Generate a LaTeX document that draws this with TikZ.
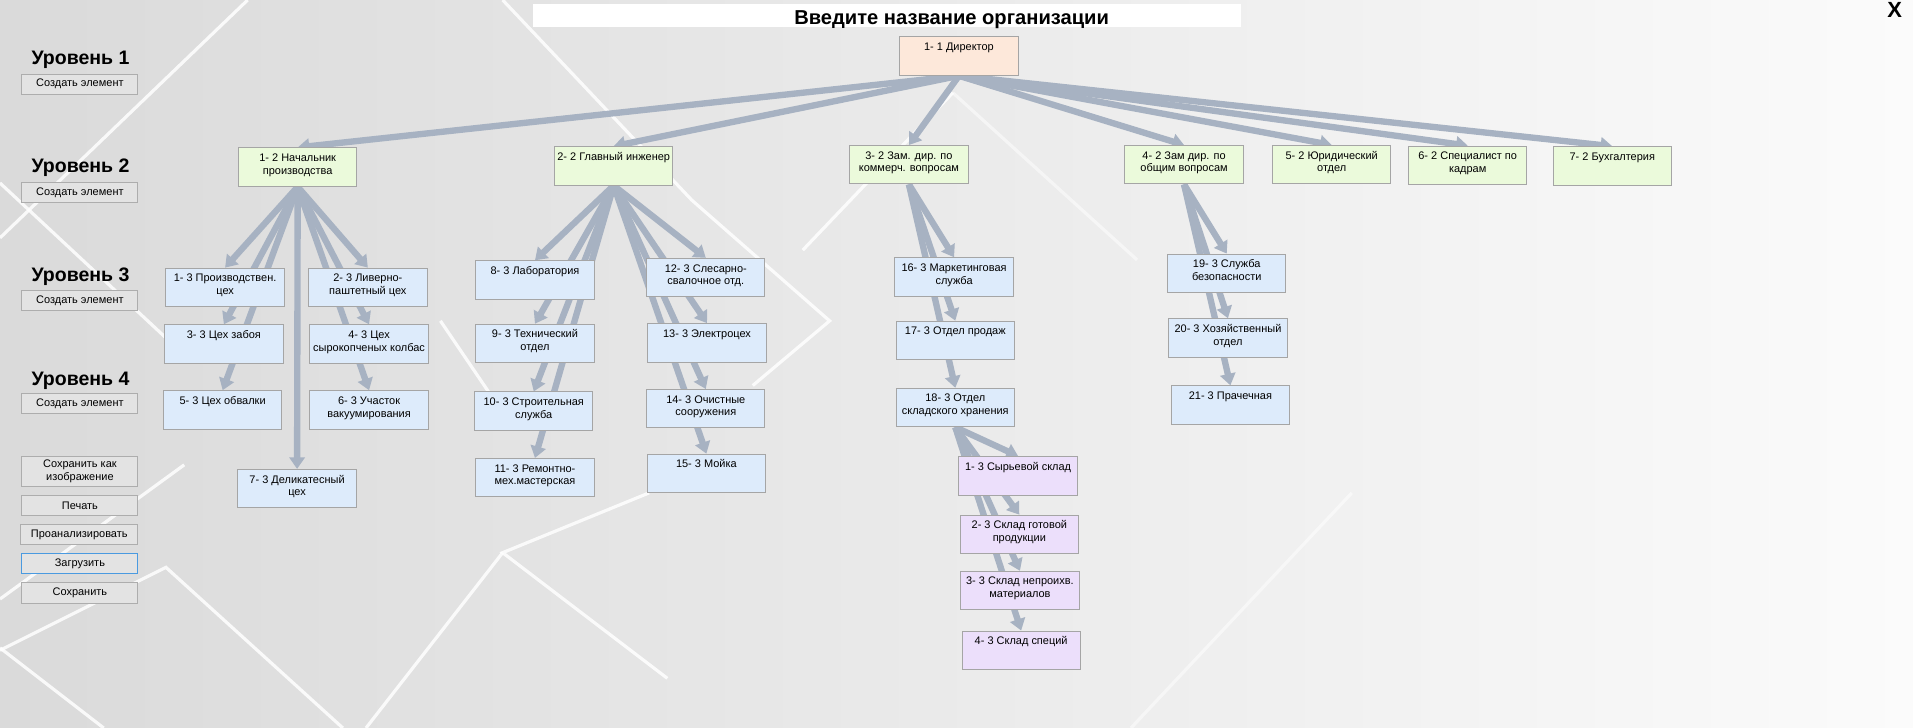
\documentclass[tikz,border=0pt]{standalone}
\usepackage{fontspec}
\setmainfont{Liberation Sans}
\usetikzlibrary{arrows.meta}
\definecolor{bgleft}{HTML}{DADADA}
\definecolor{bgmid}{HTML}{E9E9E9}
\definecolor{bgright}{HTML}{FBFBFB}
\definecolor{arrowc}{HTML}{A7B2C2}
\definecolor{boxline}{HTML}{A5A5A5}
\definecolor{dirfill}{HTML}{FDE8DA}
\definecolor{ltwofill}{HTML}{EBFADB}
\definecolor{lthreefill}{HTML}{DDEBFB}
\definecolor{whfill}{HTML}{ECDFFB}
\definecolor{btnfill}{HTML}{E3E3E3}
\definecolor{btnline}{HTML}{ADADAD}
\definecolor{loadline}{HTML}{4A9AE0}
\pgfdeclarelayer{bg}
\pgfdeclarelayer{edges}
\pgfsetlayers{bg,edges,main}
\newcommand{\bt}[2]{\vbox to 31pt{\hsize=97pt\vskip 3.7pt\hbox to 97pt{\hss\strut#1\hss}\hbox to 97pt{\hss\strut#2\hss}\vss}}
\tikzset{
  box/.style={draw=boxline, line width=0.8pt, inner sep=0pt, minimum width=97pt, minimum height=31.5pt, font=\fontsize{9}{10.4}\selectfont},
  dirbox/.style={box, fill=dirfill},
  ltwo/.style={box, fill=ltwofill},
  lthree/.style={box, fill=lthreefill},
  whbox/.style={box, fill=whfill},
  conn/.style={draw=arrowc, line width=5.2pt, -{Triangle[width=12.5pt,length=9.5pt]}},
  btn/.style={draw=btnline, fill=btnfill, line width=0.8pt, inner sep=0pt, minimum width=95pt, minimum height=16.5pt, font=\fontsize{9}{10.5}\selectfont, align=center},
  lvltext/.style={font=\fontsize{16}{18}\selectfont\bfseries, anchor=base, inner sep=0pt},
  bgline/.style={draw=white, line width=2.6pt, opacity=0.85},
  faintline/.style={draw=white, line width=2.6pt, opacity=0.5}
}
\begin{document}
\begin{tikzpicture}[x=1pt,y=-1pt]
\useasboundingbox (0,0) rectangle (1568,596.7);
\begin{pgfonlayer}{bg}
\shade[left color=bgleft, middle color=bgmid, right color=bgright] (0,0) rectangle (1568,596.7);
\draw[bgline] (203,0) -- (0,195);
\draw[bgline] (0,150) -- (150,290);
\draw[bgline] (412,0) -- (567,164) -- (680,263) -- (617,316);
\draw[bgline] (361,263) -- (420,350);
\draw[bgline] (532,404) -- (412,453) -- (547,556);
\draw[bgline] (412,453) -- (300,596.7);
\draw[bgline] (0,533) -- (136,465) -- (281,596.7);
\draw[bgline] (0,531) -- (85,596.7);
\draw[bgline] (151,381) -- (0,491);
\draw[bgline] (658,205) -- (781,76);
\draw[faintline] (781,76) -- (932,213);
\draw[faintline] (1108,404) -- (927,596.7);
\end{pgfonlayer}

% title
\node (titlebar) [fill=white, inner sep=0pt, minimum width=580pt, minimum height=19pt, anchor=north west] at (437,3) {};
\node (title) [font=\fontsize{16.5}{18}\selectfont\bfseries, anchor=base, inner sep=0pt] at (780,20) {Введите название организации};
\node (closebtn) [font=\fontsize{18}{18}\selectfont\bfseries, anchor=base, inner sep=0pt] at (1553,14.5) {X};

% left panel
\node (lv1) [lvltext] at (66,52.7) {Уровень 1};
\node (cb1) [btn] at (65.5,69) {Создать элемент};
\node (lv2) [lvltext] at (66,141.7) {Уровень 2};
\node (cb2) [btn] at (65.5,158) {Создать элемент};
\node (lv3) [lvltext] at (66,230.5) {Уровень 3};
\node (cb3) [btn] at (65.5,246.5) {Создать элемент};
\node (lv4) [lvltext] at (66,315.7) {Уровень 4};
\node (cb4) [btn] at (65.5,331) {Создать элемент};
\node (bsave) [btn, minimum height=25pt] at (65.5,386.5) {Сохранить как\\изображение};
\node (bprint) [btn] at (65.5,414.5) {Печать};
\node (banal) [btn, minimum width=96pt] at (65,438) {Проанализировать};
\node (bload) [btn, draw=loadline] at (65.5,462) {Загрузить};
\node (bstore) [btn] at (65.5,486) {Сохранить};

% level 1
\node (dir) [dirbox] at (786,46) {\bt{1- 1 Директор}{}};
% level 2
\node (n12) [ltwo] at (244,137) {\bt{1- 2 Начальник}{производства}};
\node (n22) [ltwo] at (503,136) {\bt{2- 2 Главный инженер}{}};
\node (n32) [ltwo] at (745,135) {\bt{3- 2 Зам. дир. по}{коммерч. вопросам}};
\node (n42) [ltwo] at (970.5,135) {\bt{4- 2 Зам дир. по}{общим вопросам}};
\node (n52) [ltwo] at (1091.5,135) {\bt{5- 2 Юридический}{отдел}};
\node (n62) [ltwo] at (1203,135.5) {\bt{6- 2 Специалист по}{кадрам}};
\node (n72) [ltwo] at (1321.5,136) {\bt{7- 2 Бухгалтерия}{}};
% under 1-2
\node (a1) [lthree] at (184.5,235.5) {\bt{1- 3 Производствен.}{цех}};
\node (a2) [lthree] at (301.5,235.5) {\bt{2- 3 Ливерно-}{паштетный цех}};
\node (a3) [lthree] at (183.5,282) {\bt{3- 3 Цех забоя}{}};
\node (a4) [lthree] at (302.5,282) {\bt{4- 3 Цех}{сырокопченых колбас}};
\node (a5) [lthree] at (182.5,336) {\bt{5- 3 Цех обвалки}{}};
\node (a6) [lthree] at (302.5,336) {\bt{6- 3 Участок}{вакуумирования}};
\node (a7) [lthree] at (243.5,400.5) {\bt{7- 3 Деликатесный}{цех}};
% under 2-2
\node (b8) [lthree] at (438.5,229.5) {\bt{8- 3 Лаборатория}{}};
\node (b9) [lthree] at (438.5,281.5) {\bt{9- 3 Технический}{отдел}};
\node (b10) [lthree] at (437.5,337) {\bt{10- 3 Строительная}{служба}};
\node (b11) [lthree] at (438.5,391.5) {\bt{11- 3 Ремонтно-}{мех.мастерская}};
\node (b12) [lthree] at (578.5,227.5) {\bt{12- 3 Слесарно-}{свалочное отд.}};
\node (b13) [lthree] at (579.5,281) {\bt{13- 3 Электроцех}{}};
\node (b14) [lthree] at (578.5,335) {\bt{14- 3 Очистные}{сооружения}};
\node (b15) [lthree] at (579,388) {\bt{15- 3 Мойка}{}};
% under 3-2
\node (c16) [lthree] at (782,227) {\bt{16- 3 Маркетинговая}{служба}};
\node (c17) [lthree] at (783,279) {\bt{17- 3 Отдел продаж}{}};
\node (c18) [lthree] at (783,334) {\bt{18- 3 Отдел}{складского хранения}};
% under 18-3
\node (w1) [whbox] at (834.5,390) {\bt{1- 3 Сырьевой склад}{}};
\node (w2) [whbox] at (835.5,438) {\bt{2- 3 Склад готовой}{продукции}};
\node (w3) [whbox] at (836,484) {\bt{3- 3 Склад непроихв.}{материалов}};
\node (w4) [whbox] at (837,533) {\bt{4- 3 Склад специй}{}};
% under 4-2
\node (d19) [lthree] at (1005.5,224) {\bt{19- 3 Служба}{безопасности}};
\node (d20) [lthree] at (1006.5,277) {\bt{20- 3 Хозяйственный}{отдел}};
\node (d21) [lthree] at (1008.5,332) {\bt{21- 3 Прачечная}{}};

\begin{pgfonlayer}{edges}
\foreach \t in {n12,n22,n32,n42,n52,n62,n72} \draw[conn] (dir.south) -- (\t.north);
\foreach \t in {a1,a2,a3,a4,a5,a6,a7} \draw[conn] (n12.south) -- (\t.north);
\foreach \t in {b8,b9,b10,b11,b12,b13,b14,b15} \draw[conn] (n22.south) -- (\t.north);
\foreach \t in {c16,c17,c18} \draw[conn] (n32.south) -- (\t.north);
\foreach \t in {w1,w2,w3,w4} \draw[conn] (c18.south) -- (\t.north);
\foreach \t in {d19,d20,d21} \draw[conn] (n42.south) -- (\t.north);
\end{pgfonlayer}
\end{tikzpicture}
\end{document}
